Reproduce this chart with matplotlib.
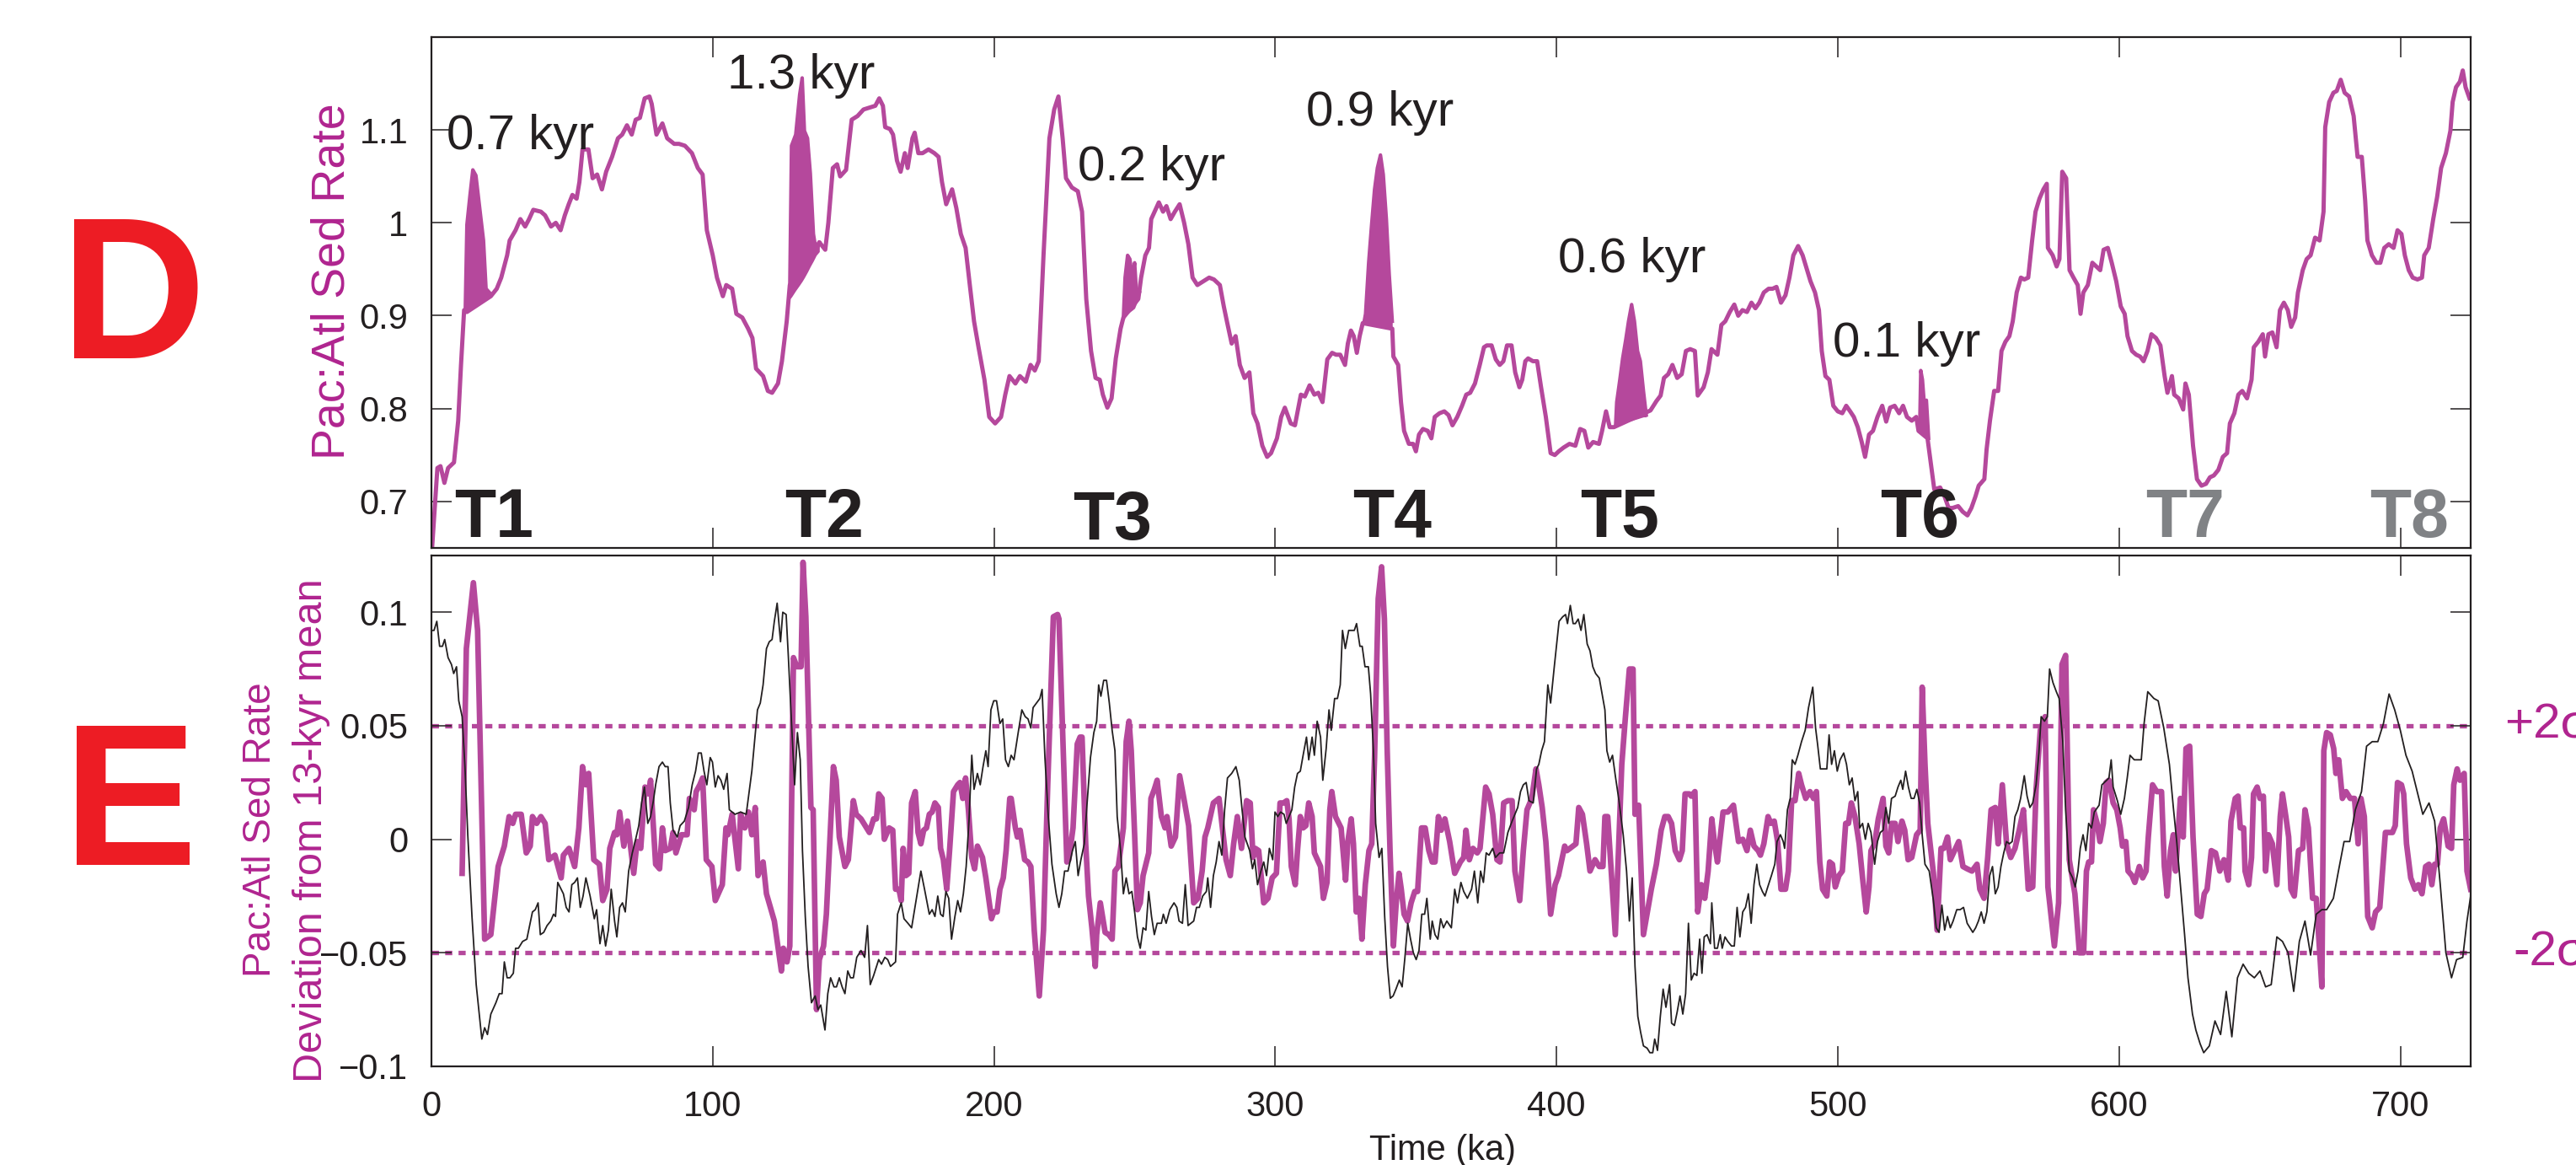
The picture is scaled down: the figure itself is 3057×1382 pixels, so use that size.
import numpy as np
import matplotlib.pyplot as plt

plt.rcParams['font.family'] = ['Liberation Sans', 'DejaVu Sans']
plt.rcParams['axes.unicode_minus'] = True

MAG = '#b5489c'
MAG_TXT = '#b0248f'
INK = '#231f20'
GRAY = '#808285'

# panel D: Pac:Atl sedimentation rate ratio (time in ka, ratio)
sed_rate = [
    (0, 0.640), (2.1, 0.736), (3.2, 0.738), (4.6, 0.720), (5.9, 0.736), (8.0, 0.742), (9.5, 0.787),
    (10.5, 0.847), (11.6, 0.906), (12.6, 0.904), (21.1, 0.921), (23.2, 0.929), (24.8, 0.941),
    (26.9, 0.965), (27.8, 0.981), (29.9, 0.992), (31.6, 1.004), (33.3, 0.996), (34.7, 1.004),
    (36.2, 1.014), (38.9, 1.012), (40.4, 1.008), (42.5, 0.996), (44.2, 1.000), (45.9, 0.992),
    (47.4, 1.008), (48.8, 1.020), (50.1, 1.030), (51.6, 1.026), (52.6, 1.044), (53.7, 1.079),
    (55.8, 1.079), (57.3, 1.048), (58.9, 1.052), (60.6, 1.036), (62.1, 1.055), (64.2, 1.071),
    (66.3, 1.091), (67.8, 1.095), (69.5, 1.105), (71.2, 1.095), (72.6, 1.111), (74.1, 1.113),
    (75.8, 1.134), (77.5, 1.136), (78.3, 1.128), (80.0, 1.095), (82.1, 1.107), (83.8, 1.091),
    (86.3, 1.085), (88.0, 1.085), (90.1, 1.083), (92.6, 1.075), (94.7, 1.059), (96.4, 1.052),
    (97.9, 0.992), (100.0, 0.965), (101.5, 0.941), (103.6, 0.921), (104.8, 0.933), (106.9, 0.929),
    (108.4, 0.902), (110.5, 0.898), (112.6, 0.886), (114.1, 0.876), (115.4, 0.843), (117.9, 0.835),
    (119.6, 0.819), (121.1, 0.817), (123.2, 0.827), (124.6, 0.851), (126.3, 0.894), (127.4, 0.933),
    (137.9, 0.979), (140.0, 0.971), (141.1, 1.000), (142.7, 1.059), (144.2, 1.063), (145.3, 1.050),
    (147.4, 1.057), (149.4, 1.111), (151.5, 1.115), (153.6, 1.122), (155.7, 1.124), (157.8, 1.126),
    (159.2, 1.134), (160.5, 1.126), (161.3, 1.103), (163.0, 1.101), (164.1, 1.095), (165.5, 1.067),
    (166.8, 1.055), (168.3, 1.075), (169.3, 1.059), (171.0, 1.091), (171.8, 1.097), (173.1, 1.075),
    (174.6, 1.075), (176.7, 1.079), (178.8, 1.075), (180.3, 1.071), (181.5, 1.044), (183.0, 1.020),
    (185.1, 1.036), (186.6, 1.016), (188.2, 0.988), (189.9, 0.973), (191.4, 0.933), (192.9, 0.894),
    (194.5, 0.866), (196.6, 0.831), (198.3, 0.791), (200.4, 0.784), (202.5, 0.791), (204.0, 0.815),
    (205.5, 0.835), (207.6, 0.827), (209.2, 0.835), (211.3, 0.829), (213.0, 0.847), (214.5, 0.841),
    (215.9, 0.851), (217.6, 0.965), (219.7, 1.091), (221.4, 1.122), (222.9, 1.136), (224.4, 1.091),
    (225.6, 1.048), (227.7, 1.038), (229.8, 1.034), (231.3, 1.012), (232.8, 0.918), (234.5, 0.862),
    (236.1, 0.833), (237.6, 0.831), (238.7, 0.815), (240.3, 0.801), (241.8, 0.811), (243.3, 0.854),
    (245.0, 0.886), (246.0, 0.898), (251.3, 0.918), (252.3, 0.941), (253.8, 0.965), (255.1, 0.973),
    (255.9, 1.004), (257.1, 1.012), (258.6, 1.022), (260.1, 1.012), (261.3, 1.018), (262.8, 1.004),
    (264.3, 1.012), (266.0, 1.020), (267.6, 1.000), (269.1, 0.977), (270.6, 0.941), (272.3, 0.933),
    (274.4, 0.937), (276.5, 0.941), (278.2, 0.939), (280.3, 0.933), (281.7, 0.910), (282.8, 0.894),
    (284.5, 0.870), (285.9, 0.878), (287.4, 0.847), (289.1, 0.833), (290.8, 0.839), (292.2, 0.795),
    (293.7, 0.784), (295.4, 0.760), (297.1, 0.748), (298.5, 0.752), (300.6, 0.768), (302.1, 0.791),
    (303.4, 0.801), (305.5, 0.784), (307.0, 0.782), (309.1, 0.815), (310.5, 0.813), (312.2, 0.825),
    (313.9, 0.815), (315.3, 0.817), (316.8, 0.807), (318.5, 0.853), (320.2, 0.860), (321.6, 0.858),
    (323.1, 0.858), (324.8, 0.847), (325.8, 0.870), (326.9, 0.884), (327.9, 0.878), (329.0, 0.860),
    (330.0, 0.878), (331.1, 0.892), (341.6, 0.886), (342.0, 0.856), (343.7, 0.847), (344.7, 0.807),
    (345.8, 0.776), (347.5, 0.762), (349.0, 0.762), (350.0, 0.754), (351.1, 0.772), (352.5, 0.778),
    (354.2, 0.776), (355.5, 0.768), (356.7, 0.791), (358.4, 0.795), (360.1, 0.797), (361.6, 0.793),
    (363.0, 0.782), (364.7, 0.791), (366.4, 0.803), (367.9, 0.815), (369.3, 0.817), (371.0, 0.827),
    (372.7, 0.847), (374.2, 0.866), (375.2, 0.868), (376.9, 0.868), (378.4, 0.853), (379.8, 0.847),
    (381.1, 0.851), (382.4, 0.868), (384.0, 0.868), (385.3, 0.839), (386.8, 0.823), (387.8, 0.831),
    (388.9, 0.851), (389.9, 0.854), (391.6, 0.851), (393.1, 0.851), (394.5, 0.823), (396.2, 0.791),
    (397.9, 0.752), (399.4, 0.750), (400.8, 0.754), (402.5, 0.758), (404.6, 0.762), (406.7, 0.760),
    (408.4, 0.778), (409.9, 0.776), (411.3, 0.758), (413.0, 0.764), (415.1, 0.762), (416.2, 0.776),
    (417.6, 0.797), (418.9, 0.780), (420.4, 0.780), (433.4, 0.798), (435.5, 0.808), (437.0, 0.814),
    (438.2, 0.833), (439.7, 0.837), (441.2, 0.847), (442.9, 0.833), (444.5, 0.837), (446.0, 0.862),
    (447.5, 0.864), (449.2, 0.862), (450.2, 0.814), (452.3, 0.823), (453.8, 0.839), (455.1, 0.864),
    (457.2, 0.858), (458.6, 0.890), (460.0, 0.894), (461.6, 0.904), (463.2, 0.912), (464.6, 0.900),
    (466.1, 0.906), (467.7, 0.904), (469.3, 0.914), (470.7, 0.908), (472.1, 0.914), (473.7, 0.925),
    (475.4, 0.929), (476.8, 0.929), (478.2, 0.931), (479.8, 0.914), (481.4, 0.922), (482.8, 0.941),
    (484.2, 0.965), (485.9, 0.975), (487.5, 0.965), (488.9, 0.951), (490.3, 0.937), (491.9, 0.925),
    (493.3, 0.906), (494.3, 0.862), (495.6, 0.835), (497.0, 0.831), (498.4, 0.803), (500.0, 0.797),
    (501.6, 0.795), (503.0, 0.803), (504.4, 0.797), (505.7, 0.791), (507.1, 0.780), (508.5, 0.764),
    (509.7, 0.748), (511.1, 0.772), (512.5, 0.776), (514.1, 0.791), (515.8, 0.803), (517.2, 0.786),
    (518.6, 0.801), (520.2, 0.803), (521.8, 0.795), (523.2, 0.803), (524.6, 0.791), (526.3, 0.787),
    (527.9, 0.791), (528.7, 0.776), (531.9, 0.768), (533.3, 0.736), (534.3, 0.713), (536.4, 0.715),
    (538.0, 0.705), (539.4, 0.693), (540.8, 0.693), (542.8, 0.695), (544.4, 0.689), (546.1, 0.685),
    (547.5, 0.693), (548.9, 0.705), (550.1, 0.717), (552.1, 0.724), (552.9, 0.756), (554.1, 0.787),
    (555.6, 0.819), (557.0, 0.819), (558.2, 0.862), (559.6, 0.872), (561.0, 0.878), (562.2, 0.894),
    (563.6, 0.925), (565.1, 0.941), (566.3, 0.939), (567.7, 0.941), (569.1, 0.981), (570.3, 1.012),
    (571.7, 1.026), (573.1, 1.036), (574.3, 1.042), (574.7, 0.973), (576.4, 0.965), (577.8, 0.953),
    (578.8, 0.961), (579.8, 1.055), (581.2, 1.048), (582.4, 0.949), (583.8, 0.941), (585.3, 0.933),
    (586.3, 0.902), (587.3, 0.925), (588.9, 0.933), (590.5, 0.957), (591.9, 0.953), (593.3, 0.949),
    (594.5, 0.971), (596.0, 0.973), (597.4, 0.957), (599.0, 0.937), (600.6, 0.910), (602.0, 0.902),
    (603.0, 0.878), (604.6, 0.862), (606.1, 0.858), (607.5, 0.856), (608.7, 0.851), (610.1, 0.862),
    (611.5, 0.880), (613.1, 0.876), (614.7, 0.868), (616.2, 0.835), (617.2, 0.817), (618.8, 0.835),
    (619.6, 0.815), (621.2, 0.811), (622.8, 0.799), (623.6, 0.827), (624.8, 0.815), (626.3, 0.760),
    (627.7, 0.724), (629.3, 0.717), (630.9, 0.719), (632.3, 0.726), (633.7, 0.728), (635.3, 0.734),
    (636.9, 0.748), (638.4, 0.752), (639.4, 0.784), (641.0, 0.795), (642.4, 0.815), (643.8, 0.819),
    (645.5, 0.811), (647.1, 0.831), (647.9, 0.866), (649.5, 0.872), (651.1, 0.880), (651.9, 0.856),
    (653.1, 0.880), (654.5, 0.882), (656.0, 0.866), (657.2, 0.906), (658.6, 0.914), (660.0, 0.906),
    (661.2, 0.888), (662.6, 0.898), (663.6, 0.925), (665.3, 0.949), (666.7, 0.961), (668.1, 0.965),
    (669.7, 0.984), (671.3, 0.981), (672.7, 1.012), (673.3, 1.103), (674.7, 1.130), (676.2, 1.140),
    (677.4, 1.142), (678.8, 1.154), (680.2, 1.140), (681.8, 1.136), (683.4, 1.115), (684.8, 1.071),
    (686.3, 1.071), (687.5, 1.024), (688.3, 0.981), (689.9, 0.965), (691.5, 0.957), (692.9, 0.957),
    (694.3, 0.973), (695.9, 0.977), (697.6, 0.973), (699.0, 0.992), (700.4, 0.988), (701.6, 0.965),
    (703.0, 0.949), (704.4, 0.941), (706.1, 0.939), (707.7, 0.941), (708.5, 0.965), (710.1, 0.973),
    (711.7, 1.004), (713.1, 1.028), (714.5, 1.059), (716.2, 1.075), (717.8, 1.099), (718.6, 1.130),
    (719.8, 1.146), (721.2, 1.152), (722.2, 1.164), (723.2, 1.146), (724.6, 1.134),
]

# shaded rapid-change events at the terminations
t1_x = [12.0, 12.6, 13.7, 14.7, 15.8, 17.3, 18.5, 19.4, 20.6]
t1_top = [0.904, 0.998, 1.030, 1.057, 1.051, 1.012, 0.981, 0.929, 0.925]
t1_bot = [0.904, 0.906, 0.908, 0.910, 0.912, 0.914, 0.916, 0.918, 0.920]
t2_x = [127.4, 128.0, 129.5, 130.9, 131.8, 132.6, 133.7, 134.7, 135.8, 136.8, 137.9]
t2_top = [0.933, 1.083, 1.095, 1.138, 1.156, 1.099, 1.091, 1.053, 0.988, 0.969, 0.979]
t2_bot = [0.918, 0.920, 0.927, 0.933, 0.937, 0.941, 0.947, 0.953, 0.959, 0.965, 0.969]
t3_x = [246.0, 246.6, 247.5, 248.3, 249.2, 250.0, 250.8, 251.7]
t3_top = [0.898, 0.941, 0.965, 0.961, 0.941, 0.957, 0.918, 0.925]
t3_bot = [0.898, 0.900, 0.902, 0.904, 0.906, 0.908, 0.914, 0.925]
t4_x = [331.5, 332.1, 333.2, 334.2, 335.3, 336.3, 337.4, 338.4, 339.5, 340.5, 341.6]
t4_top = [0.892, 0.902, 0.957, 0.996, 1.036, 1.059, 1.073, 1.052, 1.004, 0.945, 0.894]
t4_bot = [0.892, 0.892, 0.891, 0.890, 0.889, 0.888, 0.888, 0.888, 0.887, 0.886, 0.886]
t5_x = [421.0, 421.4, 422.5, 423.5, 424.6, 425.6, 426.7, 427.7, 428.8, 429.8, 430.9, 431.9]
t5_top = [0.782, 0.807, 0.831, 0.854, 0.874, 0.894, 0.912, 0.894, 0.862, 0.851, 0.819, 0.793]
t5_bot = [0.782, 0.782, 0.784, 0.784, 0.786, 0.786, 0.787, 0.788, 0.789, 0.790, 0.791, 0.791]
t6_x = [529.1, 529.5, 530.1, 530.7, 531.5, 532.3]
t6_top = [0.776, 0.841, 0.831, 0.807, 0.809, 0.768]
t6_bot = [0.776, 0.776, 0.774, 0.772, 0.770, 0.768]

event_labels = ['0.7 kyr', '1.3 kyr', '0.2 kyr', '0.9 kyr', '0.6 kyr', '0.1 kyr']
event_label_x = [5.4, 105.1, 229.7, 311.1, 400.4, 498.1]
event_label_y = [1.079, 1.1445, 1.0455, 1.1045, 0.947, 0.8564]

term_names = ['T1', 'T2', 'T3', 'T4', 'T5', 'T6', 'T7', 'T8']
term_x = [22.2, 139.6, 242.0, 341.5, 422.3, 529.0, 623.5, 703.3]
term_y = [0.662, 0.662, 0.659, 0.662, 0.662, 0.662, 0.662, 0.662]
term_gray = [False, False, False, False, False, False, True, True]

# panel E: deviation from 13-kyr mean (magenta) and comparison record (black)
deviation = [
    (10.9, -0.015), (12.4, 0.084), (14.9, 0.113), (16.4, 0.092), (18.9, -0.044), (21.1, -0.042),
    (23.7, -0.012), (25.9, -0.003), (27.6, 0.010), (28.9, 0.007), (29.9, 0.011), (31.9, 0.011),
    (33.7, -0.006), (35.1, -0.003), (35.9, 0.010), (37.4, 0.007), (38.9, 0.010), (40.4, 0.007),
    (41.7, -0.009), (43.9, -0.007), (46.1, -0.017), (46.9, -0.007), (48.9, -0.004), (50.9, -0.012),
    (52.4, 0.005), (53.7, 0.032), (54.9, 0.024), (55.9, 0.029), (57.7, -0.009), (59.7, -0.011),
    (60.9, -0.027), (62.4, -0.022), (63.4, -0.004), (65.1, 0.003), (65.9, 0.002), (66.9, 0.012),
    (68.4, -0.003), (69.7, 0.008), (71.9, -0.015), (73.1, -0.001), (74.4, -0.004), (75.9, 0.023),
    (77.1, 0.020), (77.9, 0.026), (79.7, -0.011), (81.1, -0.013), (82.1, 0.005), (83.1, -0.005),
    (84.9, -0.004), (85.9, 0.003), (86.9, -0.006), (88.9, 0.002), (90.9, 0.002), (91.7, 0.018),
    (93.4, 0.013), (94.1, 0.021), (95.4, 0.024), (96.4, 0.027), (97.7, -0.009), (99.7, -0.012),
    (100.9, -0.027), (103.4, -0.020), (104.7, 0.005), (105.4, 0.002), (106.9, 0.011), (109.1, -0.013),
    (109.9, 0.011), (111.4, 0.005), (112.7, 0.012), (113.9, 0.002), (115.1, 0.014), (116.1, -0.016),
    (117.9, -0.010), (119.1, -0.024), (121.9, -0.036), (124.4, -0.058), (125.1, -0.048), (126.4, -0.054),
    (127.4, -0.047), (128.7, 0.080), (129.9, 0.076), (131.4, 0.076), (132.1, 0.122), (133.1, 0.098),
    (134.9, 0.014), (135.7, 0.013), (136.9, -0.075), (137.9, -0.053), (139.4, -0.047), (140.4, -0.033),
    (142.9, 0.032), (143.9, 0.026), (145.0, 0.001), (147.0, -0.012), (148.2, -0.009), (150.0, 0.017),
    (151.0, 0.011), (152.7, 0.009), (155.7, 0.003), (157.2, 0.009), (158.2, 0.009), (159.0, 0.020),
    (160.2, 0.018), (161.0, 0.000), (162.7, 0.005), (164.0, 0.004), (165.0, -0.022), (166.2, -0.022),
    (167.0, -0.027), (167.7, -0.004), (168.7, -0.016), (169.7, -0.015), (170.7, 0.016), (172.0, 0.021),
    (173.0, 0.003), (174.0, -0.002), (175.0, 0.004), (176.0, 0.005), (177.0, 0.011), (178.0, 0.012),
    (179.0, 0.016), (180.2, 0.014), (181.0, -0.004), (182.0, -0.009), (183.2, -0.022), (184.2, -0.005),
    (185.6, 0.021), (187.1, 0.024), (187.9, 0.025), (188.9, 0.018), (189.9, 0.027), (190.9, 0.013),
    (192.1, -0.008), (193.1, -0.013), (194.1, -0.003), (195.9, -0.008), (197.1, -0.017), (199.1, -0.035),
    (199.9, -0.032), (201.1, -0.032), (202.1, -0.022), (203.3, -0.017), (204.3, -0.005), (205.6, 0.018),
    (206.1, 0.018), (207.6, 0.005), (208.3, 0.001), (209.3, 0.004), (210.9, -0.009), (212.1, -0.010),
    (213.1, -0.012), (214.3, -0.040), (216.1, -0.069), (217.6, -0.040), (219.1, 0.024), (221.1, 0.098),
    (222.6, 0.099), (223.1, 0.097), (224.6, 0.039), (225.9, -0.010), (226.6, -0.009), (228.1, 0.005),
    (229.6, 0.042), (230.6, 0.045), (231.3, 0.045), (232.6, -0.002), (233.6, -0.025), (234.8, -0.039),
    (236.0, -0.056), (236.5, -0.042), (237.8, -0.028), (239.5, -0.041), (240.8, -0.042), (242.0, -0.044),
    (243.0, -0.014), (244.2, -0.012), (246.0, 0.005), (247.0, 0.043), (248.0, 0.052), (248.8, 0.039),
    (250.0, 0.002), (251.0, -0.031), (252.0, -0.028), (253.0, -0.016), (255.0, -0.006), (255.8, 0.018),
    (257.0, 0.022), (258.0, 0.026), (259.5, 0.010), (260.8, 0.005), (261.5, 0.010), (263.0, -0.003),
    (264.5, 0.001), (266.0, 0.028), (267.5, 0.018), (269.2, 0.006), (271.0, -0.028), (272.5, -0.026),
    (274.0, -0.014), (275.0, 0.001), (276.0, 0.005), (278.0, 0.016), (280.0, 0.018), (282.5, -0.009),
    (284.0, -0.016), (285.2, -0.002), (286.5, 0.010), (288.0, -0.004), (289.8, 0.017), (291.1, 0.016),
    (292.1, -0.008), (292.9, -0.004), (294.1, -0.005), (295.9, -0.028), (297.4, -0.026), (298.9, -0.017),
    (300.4, -0.015), (301.7, 0.016), (302.9, 0.016), (304.1, 0.017), (304.9, 0.009), (305.7, -0.012),
    (307.1, -0.020), (307.9, -0.005), (308.9, 0.010), (309.9, 0.005), (310.9, 0.006), (311.9, 0.016),
    (313.1, 0.010), (313.9, -0.006), (316.1, -0.012), (317.1, -0.026), (318.4, -0.019), (319.4, 0.013),
    (320.1, 0.021), (321.4, 0.010), (323.4, 0.005), (325.0, -0.018), (325.8, -0.001), (327.0, 0.009),
    (327.8, -0.002), (328.8, -0.032), (329.8, -0.026), (330.8, -0.044), (332.0, -0.020), (333.3, -0.005),
    (334.3, -0.002), (335.3, 0.036), (336.6, 0.106), (337.8, 0.120), (338.8, 0.097), (339.8, 0.039),
    (340.8, -0.005), (342.0, -0.047), (343.0, -0.028), (344.0, -0.015), (344.8, -0.022), (345.8, -0.033),
    (347.0, -0.036), (348.3, -0.028), (349.6, -0.023), (350.6, -0.023), (352.0, 0.005), (353.3, 0.005),
    (354.6, -0.005), (355.8, -0.010), (356.8, -0.010), (358.0, 0.010), (359.0, 0.004), (360.3, 0.009),
    (362.0, -0.001), (363.8, -0.015), (365.8, -0.010), (367.0, -0.008), (367.8, 0.004), (369.0, -0.009),
    (370.3, -0.004), (371.8, -0.006), (372.8, -0.004), (374.8, 0.023), (376.0, 0.020), (377.3, 0.011),
    (378.8, -0.009), (379.9, -0.010), (381.2, 0.016), (382.7, 0.017), (384.2, 0.017), (385.2, -0.014),
    (386.9, -0.027), (388.2, -0.005), (389.5, 0.013), (391.2, 0.018), (392.7, 0.031), (393.7, 0.024),
    (394.9, 0.014), (396.2, -0.001), (397.9, -0.033), (399.5, -0.020), (400.7, -0.016), (402.9, -0.003),
    (403.7, -0.005), (406.9, -0.002), (407.9, 0.014), (409.2, 0.011), (410.7, -0.002), (411.9, -0.014),
    (413.7, -0.009), (415.2, -0.012), (416.5, -0.012), (417.2, 0.010), (418.2, 0.010), (419.7, -0.019),
    (420.9, -0.042), (423.2, 0.033), (424.5, 0.054), (425.9, 0.075), (427.2, 0.075), (427.9, 0.011),
    (429.2, 0.015), (430.9, -0.042), (433.7, -0.022), (435.5, -0.011), (437.2, 0.004), (438.5, 0.010),
    (439.7, 0.010), (440.9, 0.007), (442.2, -0.005), (443.7, -0.009), (444.7, -0.005), (445.7, 0.020),
    (447.2, 0.020), (447.9, 0.019), (449.2, 0.021), (450.2, -0.032), (451.5, -0.020), (452.7, -0.026),
    (453.9, -0.014), (455.2, 0.009), (456.2, -0.002), (457.2, -0.010), (458.2, 0.001), (459.2, 0.012),
    (460.9, 0.012), (462.9, 0.015), (464.7, -0.001), (466.2, 0.000), (467.7, -0.005), (468.9, 0.004),
    (470.2, -0.003), (471.7, -0.005), (472.5, -0.007), (473.7, -0.002), (475.2, 0.010), (476.2, 0.007),
    (477.4, 0.008), (478.6, -0.001), (479.8, -0.022), (481.4, -0.022), (482.4, -0.014), (483.6, 0.017),
    (484.8, 0.017), (486.1, 0.029), (487.1, 0.024), (488.6, 0.018), (490.1, 0.021), (491.4, 0.018),
    (492.4, 0.021), (493.6, -0.010), (494.6, -0.022), (496.1, -0.025), (497.1, -0.010), (498.1, -0.011),
    (499.1, -0.021), (500.4, -0.016), (501.6, -0.014), (502.8, 0.007), (503.8, 0.007), (504.8, 0.016),
    (506.1, 0.010), (507.6, -0.002), (508.8, -0.017), (510.1, -0.032), (511.1, -0.021), (511.8, -0.005),
    (513.1, -0.002), (514.4, 0.009), (516.1, 0.018), (517.1, -0.003), (518.1, -0.006), (519.1, 0.007),
    (520.4, 0.007), (521.4, -0.001), (522.8, 0.008), (523.8, 0.004), (525.0, -0.009), (526.3, -0.008),
    (528.0, 0.002), (529.3, 0.004), (530.0, 0.067), (531.0, 0.033), (532.0, 0.007), (534.0, -0.015),
    (535.3, -0.040), (536.7, -0.004), (537.7, -0.004), (539.0, 0.001), (540.0, -0.009), (541.5, -0.005),
    (543.0, -0.001), (544.5, -0.012), (546.0, -0.013), (547.7, -0.014), (549.5, -0.011), (550.5, -0.022),
    (552.0, -0.026), (553.3, -0.008), (554.5, 0.013), (556.0, 0.014), (557.0, -0.002), (558.5, 0.024),
    (560.0, -0.002), (561.5, -0.008), (563.0, -0.004), (564.5, 0.004), (566.0, 0.013), (567.7, -0.022),
    (569.3, -0.021), (570.5, 0.022), (572.0, 0.048), (573.7, 0.054), (574.7, -0.021), (577.0, -0.047),
    (578.5, -0.028), (579.7, 0.077), (581.0, 0.081), (582.3, -0.009), (584.3, -0.024), (585.9, -0.050),
    (587.4, -0.050), (588.4, -0.014), (589.2, -0.010), (590.2, -0.010), (590.9, 0.013), (592.2, 0.007),
    (593.2, -0.001), (594.4, 0.007), (595.4, 0.025), (596.4, 0.026), (597.9, 0.016), (599.2, 0.013),
    (600.4, 0.005), (601.2, -0.003), (602.4, -0.001), (603.2, -0.014), (604.6, -0.016), (605.6, -0.019),
    (607.2, -0.012), (608.4, -0.017), (609.6, -0.014), (610.4, 0.001), (611.9, 0.024), (613.4, 0.021),
    (615.1, 0.021), (616.1, -0.012), (617.1, -0.025), (618.3, -0.005), (619.3, 0.002), (620.1, -0.014),
    (621.8, 0.018), (622.8, 0.001), (623.8, 0.040), (625.1, 0.041), (626.3, 0.001), (627.8, -0.033),
    (629.1, -0.034), (630.3, -0.024), (631.3, -0.022), (632.8, -0.005), (634.3, -0.006), (635.8, -0.014),
    (637.3, -0.009), (638.8, -0.018), (639.8, 0.008), (641.3, 0.018), (642.3, 0.019), (643.1, 0.005),
    (644.3, 0.005), (644.8, -0.014), (646.1, -0.020), (647.1, -0.008), (647.8, 0.020), (649.1, 0.023),
    (650.1, 0.018), (651.3, 0.019), (652.1, -0.014), (653.1, 0.002), (654.5, -0.002), (656.1, -0.020),
    (657.3, 0.010), (658.1, 0.020), (659.3, 0.010), (660.3, 0.001), (661.1, -0.022), (662.3, -0.025),
    (663.8, -0.005), (665.3, -0.004), (666.1, 0.013), (667.3, 0.005), (668.8, -0.026), (670.1, -0.026),
    (671.3, -0.049), (672.1, -0.065), (672.8, 0.039), (673.8, 0.047), (675.1, 0.046), (676.3, 0.040),
    (677.1, 0.029), (678.1, 0.035), (679.4, 0.018), (680.7, 0.021), (682.2, 0.018), (683.7, 0.018),
    (685.0, -0.002), (686.0, 0.018), (687.2, 0.010), (688.4, -0.034), (690.0, -0.039), (691.2, -0.032),
    (692.7, -0.030), (694.7, 0.003), (697.2, 0.003), (698.2, 0.006), (699.0, 0.025), (700.4, 0.024),
    (701.2, 0.020), (702.2, -0.002), (703.7, -0.017), (705.2, -0.022), (706.4, -0.020), (707.7, -0.024),
    (709.0, -0.012), (710.2, -0.011), (711.2, -0.020), (712.2, -0.011), (713.2, -0.011), (714.2, 0.005),
    (715.4, 0.009), (717.0, -0.003), (718.2, -0.004), (719.0, 0.024), (720.2, 0.031), (721.2, 0.026),
    (722.7, 0.029), (723.7, -0.014), (725.0, -0.022),
]

reference = [
    (0.0, 0.092), (0.9, 0.092), (1.9, 0.096), (2.9, 0.085), (3.9, 0.085), (4.7, 0.088), (5.9, 0.080),
    (7.1, 0.077), (7.9, 0.073), (8.9, 0.076), (9.7, 0.061), (10.9, 0.054), (11.9, 0.032), (12.9, 0.002),
    (14.4, -0.034), (15.9, -0.064), (17.9, -0.088), (18.9, -0.083), (19.9, -0.086), (21.1, -0.077),
    (22.9, -0.072), (24.1, -0.068), (25.1, -0.068), (25.9, -0.054), (26.9, -0.061), (27.9, -0.061),
    (29.1, -0.059), (29.9, -0.048), (30.9, -0.048), (32.4, -0.045), (33.9, -0.044), (35.9, -0.032),
    (36.9, -0.031), (37.9, -0.028), (38.7, -0.042), (39.9, -0.041), (41.1, -0.038), (42.4, -0.036),
    (43.4, -0.033), (44.1, -0.034), (44.9, -0.019), (46.9, -0.024), (47.9, -0.030), (48.9, -0.032),
    (49.9, -0.020), (50.9, -0.019), (51.9, -0.017), (52.9, -0.030), (53.9, -0.025), (54.9, -0.017),
    (56.4, -0.025), (57.9, -0.035), (58.7, -0.031), (59.9, -0.046), (60.9, -0.038), (61.9, -0.047),
    (62.9, -0.040), (63.9, -0.022), (65.1, -0.036), (65.9, -0.043), (66.9, -0.030), (67.9, -0.028),
    (68.9, -0.032), (70.1, -0.014), (71.4, -0.006), (72.4, -0.001), (73.7, 0.006), (74.7, 0.016),
    (75.7, 0.023), (76.9, 0.007), (77.9, 0.010), (78.9, 0.017), (79.7, 0.024), (80.9, 0.032),
    (82.1, 0.034), (83.1, 0.032), (84.1, 0.032), (84.9, 0.016), (85.9, 0.004), (87.4, 0.001),
    (88.4, 0.006), (89.9, 0.008), (91.4, 0.014), (92.7, 0.024), (93.9, 0.030), (94.9, 0.038),
    (95.9, 0.038), (96.9, 0.030), (97.9, 0.024), (99.1, 0.036), (99.9, 0.034), (100.9, 0.023),
    (101.9, 0.028), (102.9, 0.026), (103.9, 0.022), (105.1, 0.029), (105.9, 0.013), (107.9, 0.011),
    (109.9, 0.012), (111.9, 0.011), (113.9, 0.030), (115.9, 0.057), (116.9, 0.060), (117.9, 0.068),
    (119.1, 0.084), (120.1, 0.087), (121.1, 0.088), (121.9, 0.096), (122.9, 0.104), (124.1, 0.087),
    (124.9, 0.100), (126.1, 0.099), (126.9, 0.080), (127.9, 0.054), (129.1, 0.024), (130.1, 0.047),
    (131.1, 0.035), (131.9, -0.005), (132.9, -0.034), (133.9, -0.056), (135.1, -0.072), (136.4, -0.069),
    (137.4, -0.075), (138.4, -0.073), (139.9, -0.084), (140.9, -0.068), (141.9, -0.061), (143.1, -0.065),
    (144.0, -0.065), (145.0, -0.061), (146.0, -0.065), (147.0, -0.068), (148.0, -0.058), (149.0, -0.061),
    (150.0, -0.061), (151.2, -0.052), (152.7, -0.049), (154.0, -0.052), (155.0, -0.038), (156.0, -0.064),
    (157.2, -0.060), (159.0, -0.053), (160.0, -0.055), (161.2, -0.052), (162.2, -0.053), (163.2, -0.056),
    (165.0, -0.054), (165.7, -0.033), (167.0, -0.028), (168.0, -0.035), (169.4, -0.037), (170.7, -0.039),
    (172.4, -0.026), (174.0, -0.014), (175.3, -0.022), (177.0, -0.033), (178.0, -0.031), (179.0, -0.034),
    (180.0, -0.025), (181.0, -0.033), (181.9, -0.034), (182.9, -0.023), (183.9, -0.026), (184.9, -0.044),
    (186.1, -0.034), (187.1, -0.027), (188.1, -0.032), (189.1, -0.024), (190.1, -0.012), (191.1, 0.008),
    (192.1, 0.037), (192.9, 0.022), (194.1, 0.029), (195.1, 0.024), (196.1, 0.032), (197.1, 0.039),
    (197.9, 0.032), (198.9, 0.057), (199.9, 0.061), (200.9, 0.061), (202.1, 0.051), (203.1, 0.053),
    (204.1, 0.035), (205.1, 0.032), (206.1, 0.037), (207.1, 0.035), (208.6, 0.047), (209.9, 0.057),
    (211.1, 0.054), (212.1, 0.053), (213.1, 0.049), (213.9, 0.058), (215.1, 0.060), (216.3, 0.062),
    (217.1, 0.066), (218.1, 0.036), (219.3, 0.010), (220.6, -0.011), (222.1, -0.024), (223.1, -0.030),
    (224.1, -0.024), (225.1, -0.014), (226.3, -0.014), (227.9, -0.005), (228.9, -0.001), (229.9, -0.016),
    (230.9, -0.009), (232.1, -0.002), (233.1, 0.016), (234.3, 0.036), (235.5, 0.047), (236.5, 0.052),
    (237.2, 0.068), (238.0, 0.063), (239.0, 0.070), (240.0, 0.070), (241.0, 0.060), (242.0, 0.048),
    (243.0, 0.039), (243.8, 0.010), (245.0, -0.005), (246.0, -0.024), (247.0, -0.017), (248.0, -0.024),
    (249.0, -0.023), (250.0, -0.032), (251.0, -0.043), (252.0, -0.048), (253.0, -0.039), (254.0, -0.040),
    (255.0, -0.023), (256.0, -0.034), (257.0, -0.042), (258.0, -0.037), (259.5, -0.037), (260.2, -0.033),
    (261.2, -0.037), (262.5, -0.031), (264.0, -0.028), (265.0, -0.030), (265.8, -0.036), (267.0, -0.037),
    (268.0, -0.020), (269.0, -0.038), (271.0, -0.036), (272.0, -0.030), (273.0, -0.030), (274.2, -0.025),
    (275.5, -0.023), (276.0, -0.017), (277.0, -0.030), (278.0, -0.016), (279.0, -0.010), (280.0, -0.001),
    (281.0, -0.007), (282.0, 0.013), (283.0, 0.027), (284.5, 0.029), (286.0, 0.032), (287.2, 0.026),
    (288.2, 0.013), (289.2, 0.001), (290.9, -0.005), (291.9, -0.013), (292.7, -0.009), (293.7, -0.020),
    (294.9, -0.014), (295.9, -0.010), (296.9, -0.016), (297.9, -0.004), (299.1, -0.009), (299.9, 0.012),
    (300.9, 0.010), (301.9, 0.012), (303.1, 0.011), (303.9, 0.007), (304.9, 0.010), (305.9, 0.013),
    (306.9, 0.023), (307.9, 0.029), (308.9, 0.030), (309.9, 0.037), (311.1, 0.045), (311.9, 0.035),
    (313.1, 0.045), (313.9, 0.037), (314.9, 0.052), (316.1, 0.045), (316.9, 0.026), (318.1, 0.040),
    (319.1, 0.057), (319.9, 0.048), (321.1, 0.062), (322.1, 0.062), (323.1, 0.068), (323.9, 0.092),
    (324.9, 0.084), (326.1, 0.092), (327.1, 0.092), (328.1, 0.092), (328.9, 0.095), (330.1, 0.085),
    (330.9, 0.085), (331.9, 0.076), (333.1, 0.076), (333.9, 0.064), (334.9, 0.039), (335.7, 0.007),
    (336.9, -0.008), (337.9, -0.004), (338.9, -0.034), (339.9, -0.056), (340.9, -0.070), (341.9, -0.069),
    (342.9, -0.066), (344.1, -0.062), (345.1, -0.065), (346.1, -0.052), (347.1, -0.037), (348.1, -0.044),
    (349.1, -0.050), (350.1, -0.053), (351.1, -0.049), (352.1, -0.033), (353.1, -0.033), (353.9, -0.026),
    (355.1, -0.044), (355.8, -0.036), (356.8, -0.042), (357.8, -0.044), (358.8, -0.035), (359.8, -0.039),
    (361.0, -0.036), (362.6, -0.039), (363.8, -0.022), (364.8, -0.028), (366.0, -0.019), (367.0, -0.023),
    (368.3, -0.026), (369.8, -0.022), (370.8, -0.014), (372.0, -0.028), (373.0, -0.014), (374.0, -0.019),
    (375.0, -0.006), (376.0, -0.007), (377.3, -0.004), (378.3, -0.008), (379.8, -0.006), (381.2, -0.006),
    (382.7, 0.003), (384.2, 0.008), (385.2, 0.011), (386.2, 0.014), (387.2, 0.021), (388.2, 0.024),
    (389.2, 0.025), (390.2, 0.017), (391.7, 0.016), (392.9, 0.031), (393.7, 0.033), (394.7, 0.039),
    (395.7, 0.043), (396.9, 0.068), (397.9, 0.060), (399.2, 0.076), (400.9, 0.096), (402.2, 0.098),
    (403.2, 0.099), (403.9, 0.095), (404.9, 0.103), (405.9, 0.095), (406.7, 0.095), (407.7, 0.097),
    (408.7, 0.092), (409.7, 0.099), (410.9, 0.086), (411.9, 0.083), (412.9, 0.076), (413.9, 0.073),
    (415.2, 0.071), (416.2, 0.064), (417.2, 0.057), (417.9, 0.039), (418.9, 0.034), (419.9, 0.037),
    (420.9, 0.028), (422.2, 0.017), (423.7, 0.002), (424.9, -0.014), (425.9, -0.036), (426.9, -0.017),
    (427.9, -0.056), (428.9, -0.078), (429.9, -0.085), (430.9, -0.091), (432.2, -0.092), (433.2, -0.094),
    (434.2, -0.094), (434.9, -0.088), (435.9, -0.093), (436.9, -0.078), (437.9, -0.066), (438.9, -0.074),
    (440.2, -0.064), (440.9, -0.081), (441.9, -0.082), (442.9, -0.076), (443.9, -0.069), (444.9, -0.077),
    (445.9, -0.068), (446.9, -0.037), (447.9, -0.062), (448.9, -0.059), (449.9, -0.060), (450.9, -0.044),
    (451.7, -0.059), (452.5, -0.043), (453.5, -0.042), (454.7, -0.046), (455.2, -0.028), (456.2, -0.048),
    (457.2, -0.048), (458.2, -0.042), (458.9, -0.048), (459.9, -0.043), (460.9, -0.045), (462.2, -0.047),
    (463.2, -0.047), (464.2, -0.030), (465.2, -0.043), (466.2, -0.032), (467.2, -0.030), (468.2, -0.024),
    (469.2, -0.037), (470.2, -0.020), (471.2, -0.011), (472.2, -0.020), (473.2, -0.023), (474.1, -0.025),
    (475.1, -0.021), (476.4, -0.016), (477.6, -0.011), (478.4, -0.001), (479.6, 0.002), (480.6, -0.001),
    (481.1, -0.004), (482.1, 0.013), (483.1, 0.018), (483.8, 0.035), (484.8, 0.033), (485.8, 0.037),
    (487.1, 0.043), (488.4, 0.048), (489.6, 0.058), (491.1, 0.067), (492.1, 0.049), (492.8, 0.042),
    (493.8, 0.031), (494.8, 0.031), (496.1, 0.031), (496.9, 0.046), (497.8, 0.033), (498.8, 0.039),
    (499.8, 0.030), (500.8, 0.035), (502.1, 0.038), (503.1, 0.033), (504.1, 0.024), (505.1, 0.027),
    (506.1, 0.017), (507.1, 0.021), (507.8, 0.005), (508.8, 0.007), (509.8, 0.000), (510.8, 0.007),
    (511.8, 0.003), (513.1, -0.011), (514.1, -0.001), (515.1, 0.003), (516.1, 0.004), (517.1, 0.014),
    (518.1, 0.007), (519.1, 0.018), (520.4, 0.019), (521.4, 0.023), (522.4, 0.026), (523.1, 0.022),
    (524.1, 0.030), (525.1, 0.023), (526.1, 0.018), (527.1, 0.018), (528.1, 0.022), (529.1, 0.016),
    (530.0, 0.002), (531.0, -0.011), (532.5, -0.014), (534.0, -0.027), (535.0, -0.039), (536.0, -0.041),
    (537.0, -0.029), (538.0, -0.040), (539.0, -0.034), (540.0, -0.039), (541.0, -0.036), (542.3, -0.031),
    (543.5, -0.031), (544.7, -0.030), (546.0, -0.037), (547.0, -0.039), (548.0, -0.041), (549.0, -0.039),
    (550.0, -0.036), (551.0, -0.032), (552.0, -0.037), (553.0, -0.032), (554.0, -0.016), (555.0, -0.012),
    (556.0, -0.024), (557.0, -0.021), (558.0, -0.012), (559.0, -0.006), (560.0, -0.001), (561.0, -0.002),
    (562.0, -0.001), (563.0, 0.010), (564.0, 0.013), (565.0, 0.018), (566.3, 0.028), (567.3, 0.019),
    (568.3, 0.014), (569.3, 0.016), (570.5, 0.024), (571.5, 0.038), (572.3, 0.054), (573.5, 0.052),
    (574.5, 0.054), (575.3, 0.075), (576.5, 0.069), (577.7, 0.065), (578.7, 0.062), (580.0, 0.043),
    (581.0, 0.013), (582.3, -0.014), (583.5, -0.017), (584.4, -0.021), (585.4, -0.014), (586.2, -0.004),
    (587.2, 0.002), (588.2, -0.005), (589.2, 0.007), (590.2, 0.005), (591.2, 0.012), (592.9, 0.015),
    (593.9, 0.024), (595.6, 0.026), (596.4, 0.027), (597.2, 0.035), (597.9, 0.023), (599.4, 0.017),
    (600.6, 0.011), (601.9, 0.018), (602.9, 0.027), (603.9, 0.037), (605.4, 0.035), (607.9, 0.035),
    (608.9, 0.051), (610.2, 0.065), (612.4, 0.062), (613.9, 0.061), (615.9, 0.049), (617.9, 0.033),
    (619.3, 0.014), (620.5, -0.001), (621.8, -0.020), (623.3, -0.042), (624.5, -0.061), (626.1, -0.077),
    (627.3, -0.084), (628.8, -0.090), (630.1, -0.094), (632.1, -0.091), (634.1, -0.080), (636.1, -0.086),
    (638.1, -0.067), (640.1, -0.087), (642.1, -0.061), (644.1, -0.055), (646.1, -0.059), (648.1, -0.061),
    (650.1, -0.058), (652.1, -0.065), (654.1, -0.064), (656.1, -0.043), (658.1, -0.045), (660.1, -0.050),
    (662.1, -0.067), (664.1, -0.045), (666.1, -0.036), (668.1, -0.051), (670.1, -0.033), (672.1, -0.031),
    (673.8, -0.031), (676.2, -0.026), (678.0, -0.014), (680.0, -0.001), (682.0, -0.001), (684.0, 0.013),
    (686.2, 0.021), (688.0, 0.041), (690.0, 0.043), (692.0, 0.043), (694.0, 0.051), (696.0, 0.064),
    (698.0, 0.057), (700.0, 0.048), (702.0, 0.037), (704.2, 0.030), (706.2, 0.020), (708.0, 0.011),
    (710.2, 0.016), (712.2, 0.008), (714.2, -0.020), (716.2, -0.050), (718.2, -0.061), (720.0, -0.053),
    (722.2, -0.052), (723.7, -0.036), (725.0, -0.025),
]

sigma_level = 0.05
xticks = [0, 100, 200, 300, 400, 500, 600, 700]
d_yticks = [0.7, 0.8, 0.9, 1.0, 1.1]
d_yticklabels = ['0.7', '0.8', '0.9', '1', '1.1']
e_yticks = [-0.1, -0.05, 0, 0.05, 0.1]
e_yticklabels = ['\u22120.1', '\u22120.05', '0', '0.05', '0.1']

fig = plt.figure(figsize=(30.57, 13.82), dpi=100)
ax1 = fig.add_axes([0.1675, 0.5297, 0.7916, 0.4385])
ax2 = fig.add_axes([0.1675, 0.0847, 0.7916, 0.4385])

for ax in (ax1, ax2):
    ax.set_xlim(0, 725)
    ax.set_xticks(xticks)
    ax.tick_params(direction='in', length=17, width=1.1, top=True, right=True,
                   labelsize=30, pad=20, colors=INK)
    for s in ax.spines.values():
        s.set_linewidth(1.6)
        s.set_color(INK)

# --- panel D
t, v = np.array(sed_rate).T
ax1.plot(t, v, color=MAG, lw=3.6)
events = [(t1_x, t1_top, t1_bot), (t2_x, t2_top, t2_bot), (t3_x, t3_top, t3_bot),
          (t4_x, t4_top, t4_bot), (t5_x, t5_top, t5_bot), (t6_x, t6_top, t6_bot)]
for ex, etop, ebot in events:
    ax1.fill_between(ex, ebot, etop, color=MAG, lw=0)
    ax1.plot(ex, etop, color=MAG, lw=3.0)

ax1.set_ylim(0.65, 1.2)
ax1.set_yticks(d_yticks)
ax1.set_yticklabels(d_yticklabels)
ax1.tick_params(labelbottom=False)

for lab, lx, ly in zip(event_labels, event_label_x, event_label_y):
    ax1.text(lx, ly, lab, fontsize=42, color=INK, ha='left', va='baseline')

for name, tx, ty, g in zip(term_names, term_x, term_y, term_gray):
    ax1.text(tx, ty, name, fontsize=58, weight='bold', color=GRAY if g else INK,
             ha='center', va='baseline')

# --- panel E
ax2.axhline(sigma_level, color=MAG, lw=3.8, ls=(0, (1.6, 1.4)), zorder=1)
ax2.axhline(-sigma_level, color=MAG, lw=3.8, ls=(0, (1.6, 1.4)), zorder=1)
dt, dv = np.array(deviation).T
ax2.plot(dt, dv, color=MAG, lw=4.8, zorder=2)
rt, rv = np.array(reference).T
ax2.plot(rt, rv, color=INK, lw=1.3, zorder=3)

ax2.set_ylim(-0.1, 0.125)
ax2.set_yticks(e_yticks)
ax2.set_yticklabels(e_yticklabels)

ax2.text(737, sigma_level, '+2\u03c3', fontsize=42, color=MAG_TXT, ha='left', va='center', clip_on=False)
ax2.text(740, -sigma_level, '-2\u03c3', fontsize=42, color=MAG_TXT, ha='left', va='center', clip_on=False)

# axis titles and panel letters
fig.text(0.1290, 0.7583, 'Pac:Atl Sed Rate', rotation=90, fontsize=40, color=MAG_TXT,
         ha='center', va='center')
fig.text(0.1010, 0.288, 'Pac:Atl Sed Rate', rotation=90, fontsize=33, color=MAG_TXT,
         ha='center', va='center')
fig.text(0.1210, 0.2873, 'Deviation from 13-kyr mean', rotation=90, fontsize=35, color=MAG_TXT,
         ha='center', va='center')
fig.text(0.560, 0.0268, 'Time (ka)', fontsize=30, color=INK, ha='center', va='top')

fig.text(0.0518, 0.6925, 'D', fontsize=172, weight='bold', color='#ed1c24', ha='center', va='baseline')
fig.text(0.0505, 0.2576, 'E', fontsize=172, weight='bold', color='#ed1c24', ha='center', va='baseline')

fig.savefig('out.png', dpi=100)
